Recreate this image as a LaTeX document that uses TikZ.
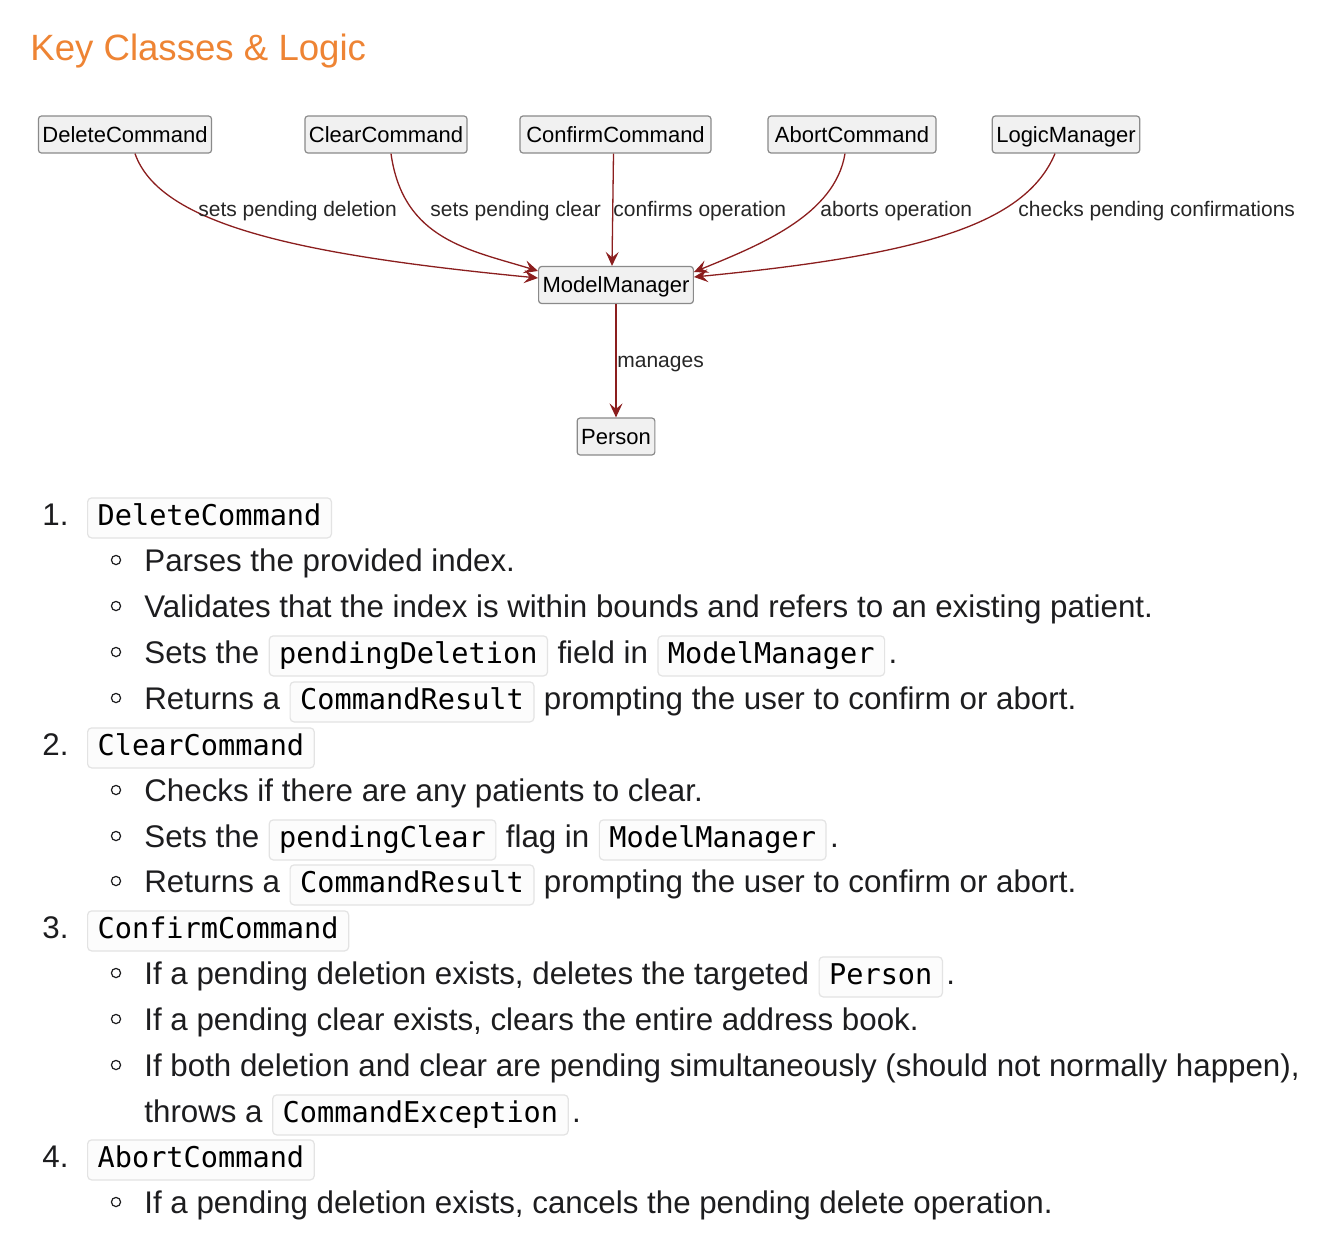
\documentclass[tikz,border=0pt]{standalone}
\usepackage{fontspec}
\setmainfont{Liberation Sans}
\newfontfamily\monofont{DejaVu Sans Mono}
\usetikzlibrary{arrows.meta,positioning}
\definecolor{keyorange}{HTML}{EE8434}
\definecolor{umlred}{HTML}{8B1E1E}
\definecolor{umlfill}{HTML}{F1F1F1}
\definecolor{umlline}{HTML}{8A8A8A}
\definecolor{codeline}{HTML}{E3E3E3}
\definecolor{codefill}{HTML}{FCFCFC}
\definecolor{bodytext}{HTML}{1D1D1F}

\begin{document}
\begin{tikzpicture}[x=0.5pt,y=-0.5pt,
  cls/.style={draw=umlline,fill=umlfill,line width=0.6pt,rounded corners=1.5pt,
    minimum height=18.5pt,inner xsep=2pt,text height=9.4pt,text depth=1.6pt,
    font=\fontsize{11}{12}\selectfont},
  rel/.style={->,draw=umlred,line width=0.65pt,>={Stealth[length=7pt,width=6.5pt,inset=2.8pt]}},
  lbl/.style={anchor=west,inner sep=0pt,text=black!85,font=\fontsize{10.5}{12}\selectfont},
  txt/.style={anchor=base west,inner sep=0pt,text=bodytext,font=\fontsize{15.65}{18}\selectfont},
  code/.style={anchor=base west,draw=codeline,fill=codefill,line width=0.6pt,rounded corners=2pt,
    inner xsep=5pt,inner ysep=2.85pt,text height=10.7pt,text depth=3.6pt,text=black,
    font=\monofont\fontsize{14.3}{17}\selectfont},
  dot/.style={circle,draw=bodytext,line width=0.6pt,inner sep=0pt,minimum size=4.6pt}]
  \useasboundingbox (0,0) rectangle (1330,1254);
  \fill[white] (0,0) rectangle (1330,1254);

  \node[anchor=base west,inner sep=0pt,text=keyorange,font=\fontsize{18.3}{22}\selectfont] (title) at (30,60) {Key Classes \& Logic};

  % class diagram
  \node[cls,minimum width=86pt] (del) at (125,134.5) {DeleteCommand};
  \node[cls,minimum width=80pt] (clr) at (386,134.5) {ClearCommand};
  \node[cls,minimum width=95.5pt] (cnf) at (615.5,134.5) {ConfirmCommand};
  \node[cls,minimum width=84pt] (abt) at (852,134.5) {AbortCommand};
  \node[cls,minimum width=73.5pt] (lgm) at (1066,134.5) {LogicManager};
  \node[cls,minimum width=77pt] (mm) at (616,285) {ModelManager};
  \node[cls,minimum width=38pt] (per) at (616,436.5) {Person};

  \draw[rel] ([xshift=5pt]del.south) .. controls (160,225) and (300,255) .. ([yshift=3.5pt]mm.west);
  \draw[rel] ([xshift=2.5pt]clr.south) .. controls (403,240) and (470,250) .. ([yshift=7pt]mm.west);
  \draw[rel] ([xshift=-1pt]cnf.south) -- ([xshift=-2pt]mm.north);
  \draw[rel] ([xshift=-3.5pt]abt.south) .. controls (835,215) and (760,245) .. ([yshift=6.5pt]mm.east);
  \draw[rel] ([xshift=-5.5pt]lgm.south) .. controls (1025,225) and (920,255) .. ([yshift=4pt]mm.east);
  \draw[rel] (mm.south) -- (per.north);

  \node[lbl] (lDel) at (198,211) {sets pending deletion};
  \node[lbl] (lClr) at (430,211) {sets pending clear};
  \node[lbl] (lCnf) at (613,211) {confirms operation};
  \node[lbl] (lAbt) at (820,211) {aborts operation};
  \node[lbl] (lLgm) at (1018,211) {checks pending confirmations};
  \node[lbl] (lMan) at (617,364) {manages};

  % numbered list
  \foreach \y [count=\i] in {560,606,652,698,790,836,881,973,1019,1065,1202}
    \node[dot] (b\i) at (116,\y) {};

  \node[txt] (n1) at (42,525) {1.};
  \node[code] (c1) at (87,525) {DeleteCommand};
  \node[txt] (t1) at (144,571) {Parses the provided index.};
  \node[txt] (t2) at (144,617) {Validates that the index is within bounds and refers to an existing patient.};
  \node[txt] (t3) at (144,663) {Sets the};
  \node[code] (t3a) at ([xshift=4.5pt]t3.base east) {pendingDeletion};
  \node[txt] (t3b) at ([xshift=4.5pt]t3a.base east) {field in};
  \node[code] (t3c) at ([xshift=4.5pt]t3b.base east) {ModelManager};
  \node[txt] (t3d) at ([xshift=1.5pt]t3c.base east) {.};
  \node[txt] (t4) at (144,709) {Returns a};
  \node[code] (t4a) at ([xshift=4.5pt]t4.base east) {CommandResult};
  \node[txt] (t4b) at ([xshift=4.5pt]t4a.base east) {prompting the user to confirm or abort.};

  \node[txt] (n2) at (42,755) {2.};
  \node[code] (c2) at (87,755) {ClearCommand};
  \node[txt] (t5) at (144,801) {Checks if there are any patients to clear.};
  \node[txt] (t6) at (144,847) {Sets the};
  \node[code] (t6a) at ([xshift=4.5pt]t6.base east) {pendingClear};
  \node[txt] (t6b) at ([xshift=4.5pt]t6a.base east) {flag in};
  \node[code] (t6c) at ([xshift=4.5pt]t6b.base east) {ModelManager};
  \node[txt] (t6d) at ([xshift=1.5pt]t6c.base east) {.};
  \node[txt] (t7) at (144,892) {Returns a};
  \node[code] (t7a) at ([xshift=4.5pt]t7.base east) {CommandResult};
  \node[txt] (t7b) at ([xshift=4.5pt]t7a.base east) {prompting the user to confirm or abort.};

  \node[txt] (n3) at (42,938) {3.};
  \node[code] (c3) at (87,938) {ConfirmCommand};
  \node[txt] (t8) at (144,984) {If a pending deletion exists, deletes the targeted};
  \node[code] (t8a) at ([xshift=4.5pt]t8.base east) {Person};
  \node[txt] (t8b) at ([xshift=1.5pt]t8a.base east) {.};
  \node[txt] (t9) at (144,1030) {If a pending clear exists, clears the entire address book.};
  \node[txt] (t10) at (144,1076) {If both deletion and clear are pending simultaneously (should not normally happen),};
  \node[txt] (t11) at (144,1122) {throws a};
  \node[code] (t11a) at ([xshift=4.5pt]t11.base east) {CommandException};
  \node[txt] (t11b) at ([xshift=1.5pt]t11a.base east) {.};

  \node[txt] (n4) at (42,1167) {4.};
  \node[code] (c4) at (87,1167) {AbortCommand};
  \node[txt] (t12) at (144,1213) {If a pending deletion exists, cancels the pending delete operation.};
\end{tikzpicture}
\end{document}
